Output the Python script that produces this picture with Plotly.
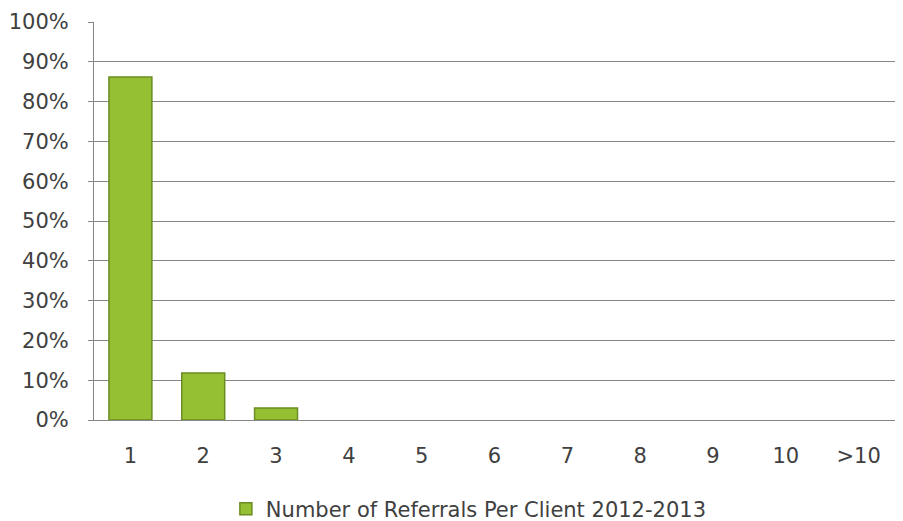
import plotly.graph_objects as go

categories = ["1", "2", "3", "4", "5", "6", "7", "8", "9", "10", ">10"]
share = [0.862, 0.118, 0.030, 0, 0, 0, 0, 0, 0, 0, 0]
series_name = "Number of Referrals Per Client 2012-2013"
y_ticks = [0, 0.1, 0.2, 0.3, 0.4, 0.5, 0.6, 0.7, 0.8, 0.9, 1.0]

line_widths = [1.5 if v > 0 else 0 for v in share]

fig = go.Figure()
fig.add_trace(go.Bar(
    x=categories, y=share, name=series_name,
    marker=dict(color="#95c034", line=dict(color="#6a8c20", width=line_widths)),
    width=0.59, showlegend=True,
))

font = dict(family="DejaVu Sans, sans-serif", size=21, color="#404040")
fig.update_layout(
    width=887, height=540,
    margin=dict(l=86, r=0, t=14, b=128),
    paper_bgcolor="white", plot_bgcolor="white",
    font=font,
    showlegend=True,
    legend=dict(orientation="h", x=0.468, xanchor="center", y=-0.224, yanchor="middle",
                font=dict(size=21, color="#404040"), itemwidth=30),
)
fig.update_yaxes(
    range=[0, 1.0], tickvals=y_ticks, tickformat=".0%",
    showgrid=True, gridcolor="#868686", gridwidth=1,
    showline=True, linecolor="#868686", linewidth=1,
    ticks="outside", ticklen=5, tickcolor="#868686",
    ticklabelstandoff=15, zeroline=False, fixedrange=True,
)
fig.update_xaxes(
    showline=True, linecolor="#868686", linewidth=1, mirror=False,
    ticks="", ticklabelstandoff=17, showgrid=False,
)
fig.write_html("out.html", config={"displayModeBar": False})
